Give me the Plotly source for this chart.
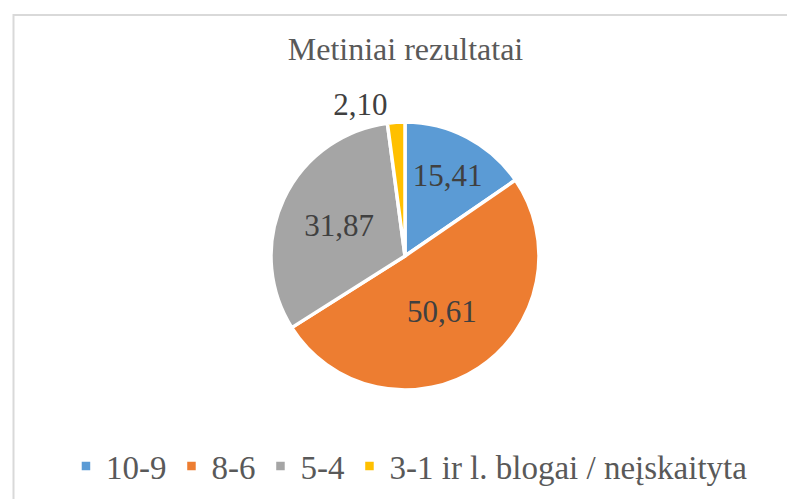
import plotly.graph_objects as go

categories = ["10-9", "8-6", "5-4", "3-1 ir l. blogai / neįskaityta"]
values = [15.41, 50.61, 31.87, 2.10]
colors = ["#5B9BD5", "#ED7D31", "#A5A5A5", "#FFC000"]
text_positions = ["inside", "inside", "inside", "outside"]
title_text = "Metiniai rezultatai"

W, H = 795, 499
cx, cy, r = 397, 248, 134

fig = go.Figure(go.Pie(
    labels=categories,
    values=values,
    sort=False,
    direction="clockwise",
    rotation=0,
    marker=dict(colors=colors, line=dict(color="white", width=3.5)),
    texttemplate="%{value:.2f}",
    textposition=text_positions,
    insidetextorientation="horizontal",
    textfont=dict(family="Liberation Serif", size=31, color="#404040"),
    outsidetextfont=dict(family="Liberation Serif", size=31, color="#404040"),
    hoverinfo="label+value",
    domain=dict(x=[(cx - r) / W, (cx + r) / W], y=[1 - (cy + r) / H, 1 - (cy - r) / H]),
))

fig.update_layout(
    width=W, height=H,
    margin=dict(l=0, r=0, t=0, b=0),
    paper_bgcolor="white",
    separators=", ",
    uniformtext=dict(minsize=31, mode="show"),
    title=dict(text=title_text, x=0.5, xanchor="center", y=0.918, yanchor="middle",
               font=dict(family="Liberation Serif", size=32, color="#595959")),
    legend=dict(orientation="h", x=0.505, xanchor="center", y=0.082, yanchor="middle",
                font=dict(family="Liberation Serif", size=33, color="#595959"),
                traceorder="normal"),
    shapes=[
        dict(type="line", xref="paper", yref="paper", x0=5.5 / W, x1=5.5 / W, y0=0, y1=1 - 6 / H,
             line=dict(color="#D9D9D9", width=2)),
        dict(type="line", xref="paper", yref="paper", x0=5 / W, x1=1, y0=1 - 7 / H, y1=1 - 7 / H,
             line=dict(color="#D9D9D9", width=2)),
    ],
)

fig.write_html("out.html")
